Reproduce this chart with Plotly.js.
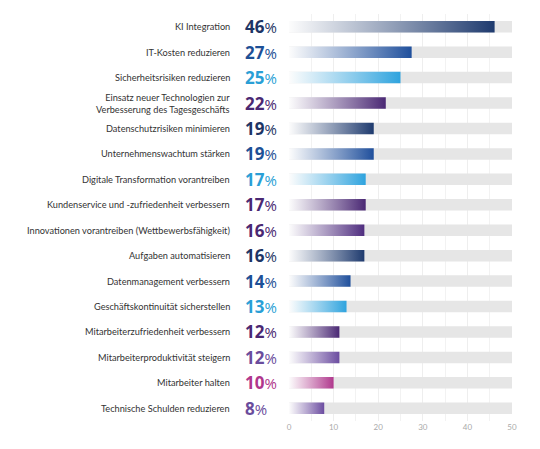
<!DOCTYPE html>
<html><head><meta charset="utf-8">
<script src="https://cdn.plot.ly/plotly-3.0.1.min.js"></script>
<style>html,body{margin:0;padding:0;background:#fff;}#chart{width:540px;height:449px;}</style>
</head><body><div id="chart"></div>
<script>
const categories = [
  "KI Integration",
  "IT-Kosten reduzieren",
  "Sicherheitsrisiken reduzieren",
  "Einsatz neuer Technologien zur<br>Verbesserung des Tagesgeschäfts",
  "Datenschutzrisiken minimieren",
  "Unternehmenswachtum stärken",
  "Digitale Transformation vorantreiben",
  "Kundenservice und -zufriedenheit verbessern",
  "Innovationen vorantreiben (Wettbewerbsfähigkeit)",
  "Aufgaben automatisieren",
  "Datenmanagement verbessern",
  "Geschäftskontinuität sicherstellen",
  "Mitarbeiterzufriedenheit verbessern",
  "Mitarbeiterproduktivität steigern",
  "Mitarbeiter halten",
  "Technische Schulden reduzieren"
];
const values = [46.1, 27.5, 25.0, 21.7, 19.0, 19.0, 17.2, 17.2, 16.9, 16.9, 13.8, 12.9, 11.3, 11.3, 10.0, 7.9];
const percentLabels = ["46", "27", "25", "22", "19", "19", "17", "17", "16", "16", "14", "13", "12", "12", "10", "8"];
const barColors = ["#1e3a6e", "#1f4f9c", "#2ea3de", "#4a2874", "#1e3a6e", "#1f4f9c", "#2ea3de", "#4a2874",
                   "#4f2d7f", "#1e3a6e", "#1f4f9c", "#2ea3de", "#4a2874", "#6b4ca0", "#b0388d", "#6b4ca0"];
const labelColors = ["#1e3565", "#1d5096", "#2a9fd6", "#4a2872", "#1e3565", "#1d5096", "#2a9fd6", "#4a2872",
                     "#4a2872", "#1e3565", "#1d5096", "#2a9fd6", "#4a2872", "#6a4c9c", "#b0368c", "#6a4c9c"];
const axisMax = 50;
const xTicks = [0, 10, 20, 30, 40, 50];

const idx = categories.map((c, i) => i);
const half = 0.225;

const traces = [{
  type: 'bar', orientation: 'h',
  y: idx, x: idx.map(() => axisMax),
  width: half * 2,
  marker: {color: '#e6e6e6'},
  hoverinfo: 'skip', showlegend: false
}];

values.forEach((v, i) => {
  traces.push({
    type: 'scatter', mode: 'lines',
    x: [0, v, v, 0, 0],
    y: [i - half, i - half, i + half, i + half, i - half],
    fill: 'toself',
    line: {width: 0, color: 'rgba(0,0,0,0)'},
    fillgradient: {type: 'horizontal', colorscale: [[0, 'rgba(255,255,255,0.9)'], [1, barColors[i]]]},
    hoverinfo: 'skip', showlegend: false
  });
});

const annotations = [];
categories.forEach((c, i) => {
  annotations.push({
    x: 0, y: i, xref: 'x', yref: 'y', xanchor: 'right', yanchor: 'middle', xshift: -57,
    text: c, showarrow: false, align: 'right',
    font: {family: 'Lato, sans-serif', size: 9.2, color: '#333'}
  });
  annotations.push({
    x: 0, y: i, xref: 'x', yref: 'y', xanchor: 'left', yanchor: 'middle', xshift: -46,
    text: '<b>' + percentLabels[i] + '</b><span style="font-size:15px">%</span>', showarrow: false,
    font: {family: '"Open Sans", sans-serif', size: 17, color: labelColors[i]}
  });
});

const layout = {
  width: 540, height: 449,
  margin: {l: 289, r: 28, t: 14, b: 28},
  paper_bgcolor: '#fff', plot_bgcolor: '#fff',
  showlegend: false,
  xaxis: {
    range: [0, axisMax], tickvals: xTicks, ticks: '',
    showgrid: true, gridcolor: '#eeeeee', gridwidth: 1,
    minor: {dtick: 5, showgrid: true, gridcolor: '#f2f2f2'},
    zeroline: false, showline: false,
    tickfont: {family: 'Lato, sans-serif', size: 8, color: '#aaaaaa'}
  },
  yaxis: {
    range: [15.5, -0.5], showticklabels: false, showgrid: false, zeroline: false, showline: false, ticks: ''
  },
  annotations: annotations
};

Plotly.newPlot('chart', traces, layout, {displayModeBar: false, staticPlot: true});
</script>
</body></html>
